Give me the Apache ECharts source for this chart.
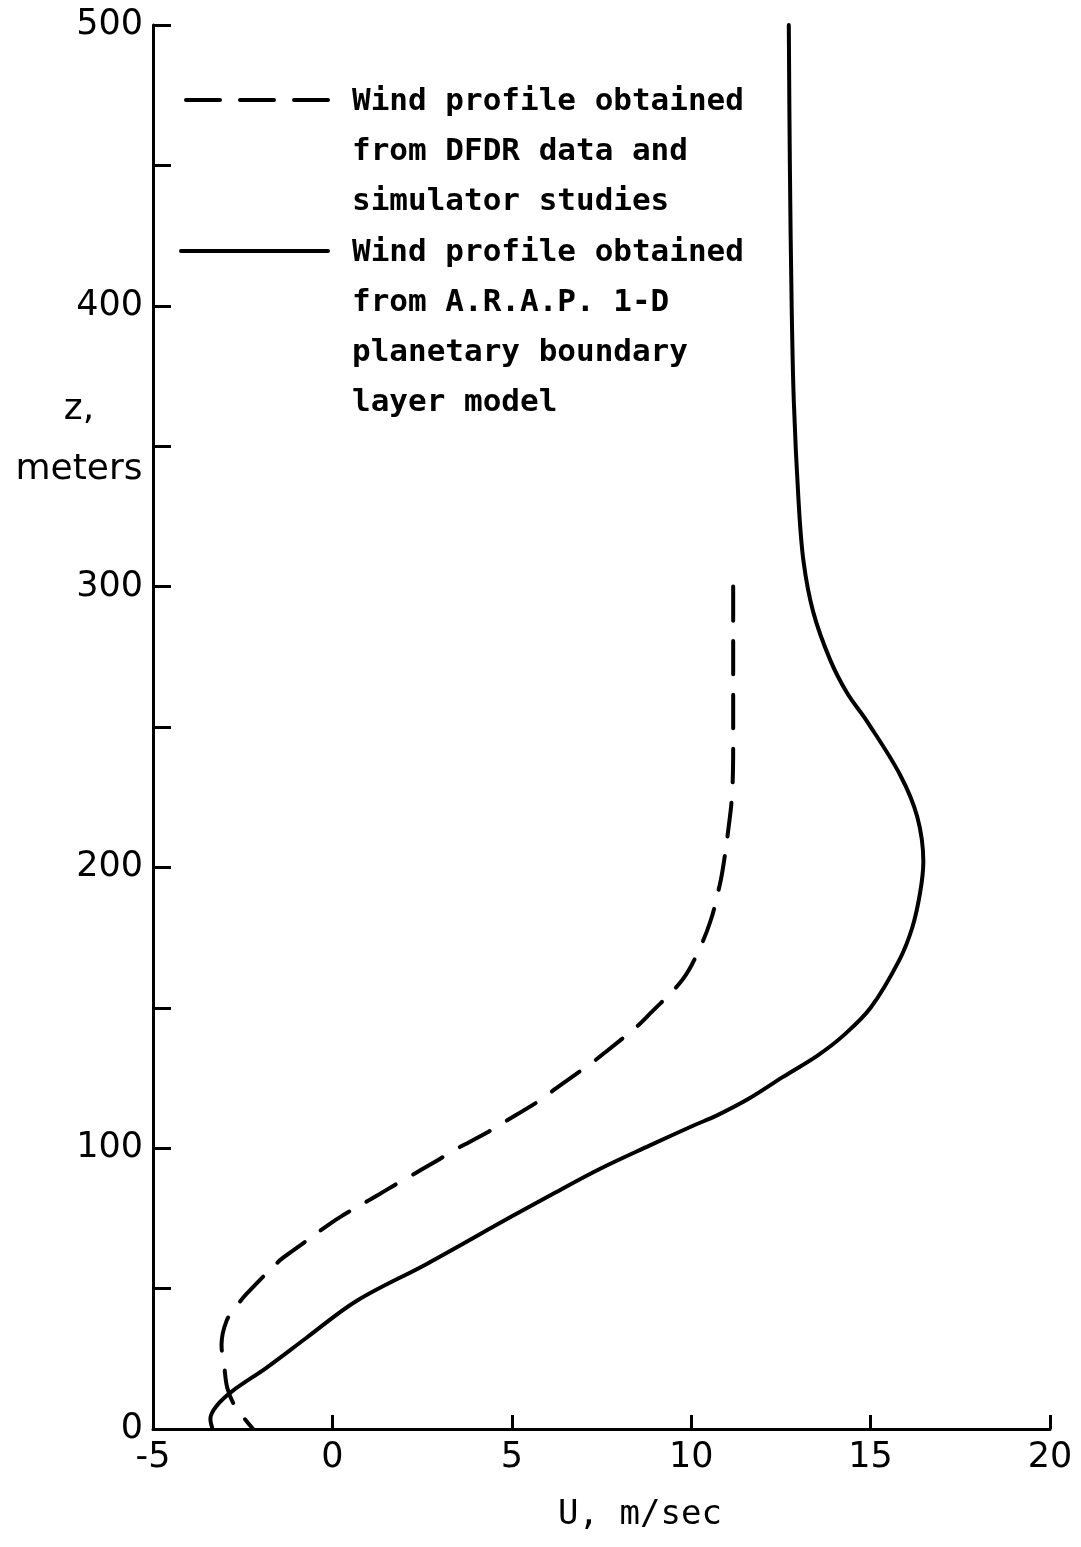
<!DOCTYPE html>
<html>
<head>
<meta charset="utf-8">
<script src="https://cdn.jsdelivr.net/npm/echarts@6/dist/echarts.min.js"></script>
<style>
  html, body { margin: 0; padding: 0; background: #ffffff; }
  #chart { width: 1081px; height: 1547px; }
</style>
</head>
<body>
<div id="chart"></div>
<script>
// Wind profile from DFDR data and simulator studies: height z (m), wind U (m/s)
const dfdrZ = [300, 285, 264, 244, 226, 214, 201, 194, 181, 169, 159.7, 147.9, 143.6, 134, 130.4, 121, 117, 109, 105.5, 99, 95.5, 87.3, 83.7, 76, 73, 63.4, 60, 48, 43.8, 38.5, 30, 21.8, 14.7, 8.5, 0];
const dfdrU = [11.17, 11.17, 11.17, 11.17, 11.14, 11.04, 10.90, 10.80, 10.54, 10.16, 9.74, 8.85, 8.51, 7.59, 7.23, 6.20, 5.78, 4.75, 4.30, 3.35, 2.91, 1.79, 1.32, 0.28, -0.08, -1.11, -1.47, -2.40, -2.67, -2.95, -3.09, -3.01, -2.93, -2.73, -2.21];

// Wind profile from the A.R.A.P. 1-D planetary boundary layer model
const arapZ = [500, 450, 400, 366, 331, 309, 291, 274, 262, 252, 233, 218, 202, 191, 178.5, 167, 150, 140, 133, 125.4, 117.6, 111.7, 108, 101, 92.6, 83.7, 75.3, 58.8, 45.6, 32.5, 21.8, 13.5, 8.2, 3.6, 0];
const arapU = [12.72, 12.75, 12.80, 12.86, 12.99, 13.13, 13.40, 13.87, 14.35, 14.90, 15.82, 16.30, 16.47, 16.38, 16.16, 15.80, 15.00, 14.23, 13.52, 12.56, 11.60, 10.72, 10.05, 8.85, 7.45, 6.14, 4.94, 2.63, 0.67, -0.72, -1.84, -2.79, -3.23, -3.40, -3.34];

// Axis ranges: [min, max, interval]
const uRange = [-5, 20, 5];
const zRange = [0, 500, 50];

// Legend entries
const legendNames = [
  'Wind profile obtained\nfrom DFDR data and\nsimulator studies',
  'Wind profile obtained\nfrom A.R.A.P. 1-D\nplanetary boundary\nlayer model'
];

const INK = '#000000';
const DASH = [34, 20];
const LEGEND_FONT = 'bold 31px "DejaVu Sans Mono", monospace';

const toPairs = (us, zs) => us.map((u, i) => [u, zs[i]]);

const chart = echarts.init(document.getElementById('chart'), null, { renderer: 'canvas' });

chart.setOption({
  backgroundColor: '#ffffff',
  animation: false,
  textStyle: { fontFamily: '"DejaVu Sans", sans-serif', color: INK },
  grid: { left: 153, right: 31, top: 25, bottom: 118, containLabel: false },
  xAxis: {
    type: 'value',
    min: uRange[0], max: uRange[1], interval: uRange[2],
    name: 'U, m/sec',
    nameLocation: 'middle',
    nameGap: 86,
    nameTextStyle: { fontSize: 34, color: INK, verticalAlign: 'middle', padding: [0, 0, 0, 77], fontFamily: '"DejaVu Sans Mono", monospace' },
    axisLine: { onZero: false, lineStyle: { color: INK, width: 3 } },
    axisTick: { inside: true, length: 14, lineStyle: { color: INK, width: 3 } },
    axisLabel: { fontSize: 35, color: INK, margin: 11 },
    splitLine: { show: false }
  },
  yAxis: {
    type: 'value',
    min: zRange[0], max: zRange[1], interval: zRange[2],
    name: 'z,\nmeters',
    nameLocation: 'end',
    nameGap: -415,
    nameTextStyle: { fontSize: 36, color: INK, align: 'center', verticalAlign: 'middle', lineHeight: 60, padding: [0, 148, 0, 0], fontFamily: '"DejaVu Sans", sans-serif' },
    axisLine: { onZero: false, lineStyle: { color: INK, width: 3 } },
    axisTick: { inside: true, length: 18, lineStyle: { color: INK, width: 3 } },
    axisLabel: {
      fontSize: 35, color: INK, margin: 10,
      formatter: v => (v % 100 === 0 ? String(v) : '')
    },
    splitLine: { show: false }
  },
  series: [
    {
      name: legendNames[0],
      type: 'line',
      data: toPairs(dfdrU, dfdrZ),
      symbol: 'none',
      smooth: 0.35,
      clip: false,
      lineStyle: { color: INK, width: 4, type: DASH, cap: 'round' }
    },
    {
      name: legendNames[1],
      type: 'line',
      data: toPairs(arapU, arapZ),
      symbol: 'none',
      smooth: 0.35,
      clip: false,
      lineStyle: { color: INK, width: 4, type: 'solid', cap: 'round' }
    }
  ],
  graphic: [
    {
      type: 'line',
      shape: { x1: 186, y1: 100, x2: 328, y2: 100 },
      style: { stroke: INK, lineWidth: 4, lineDash: DASH, lineCap: 'round' }
    },
    {
      type: 'text',
      x: 352, y: 77,
      style: { text: legendNames[0], font: LEGEND_FONT, fill: INK, lineHeight: 50, align: 'left', verticalAlign: 'top' }
    },
    {
      type: 'line',
      shape: { x1: 181, y1: 251, x2: 328, y2: 251 },
      style: { stroke: INK, lineWidth: 4, lineCap: 'round' }
    },
    {
      type: 'text',
      x: 352, y: 228,
      style: { text: legendNames[1], font: LEGEND_FONT, fill: INK, lineHeight: 50, align: 'left', verticalAlign: 'top' }
    }
  ]
});
</script>
</body>
</html>
